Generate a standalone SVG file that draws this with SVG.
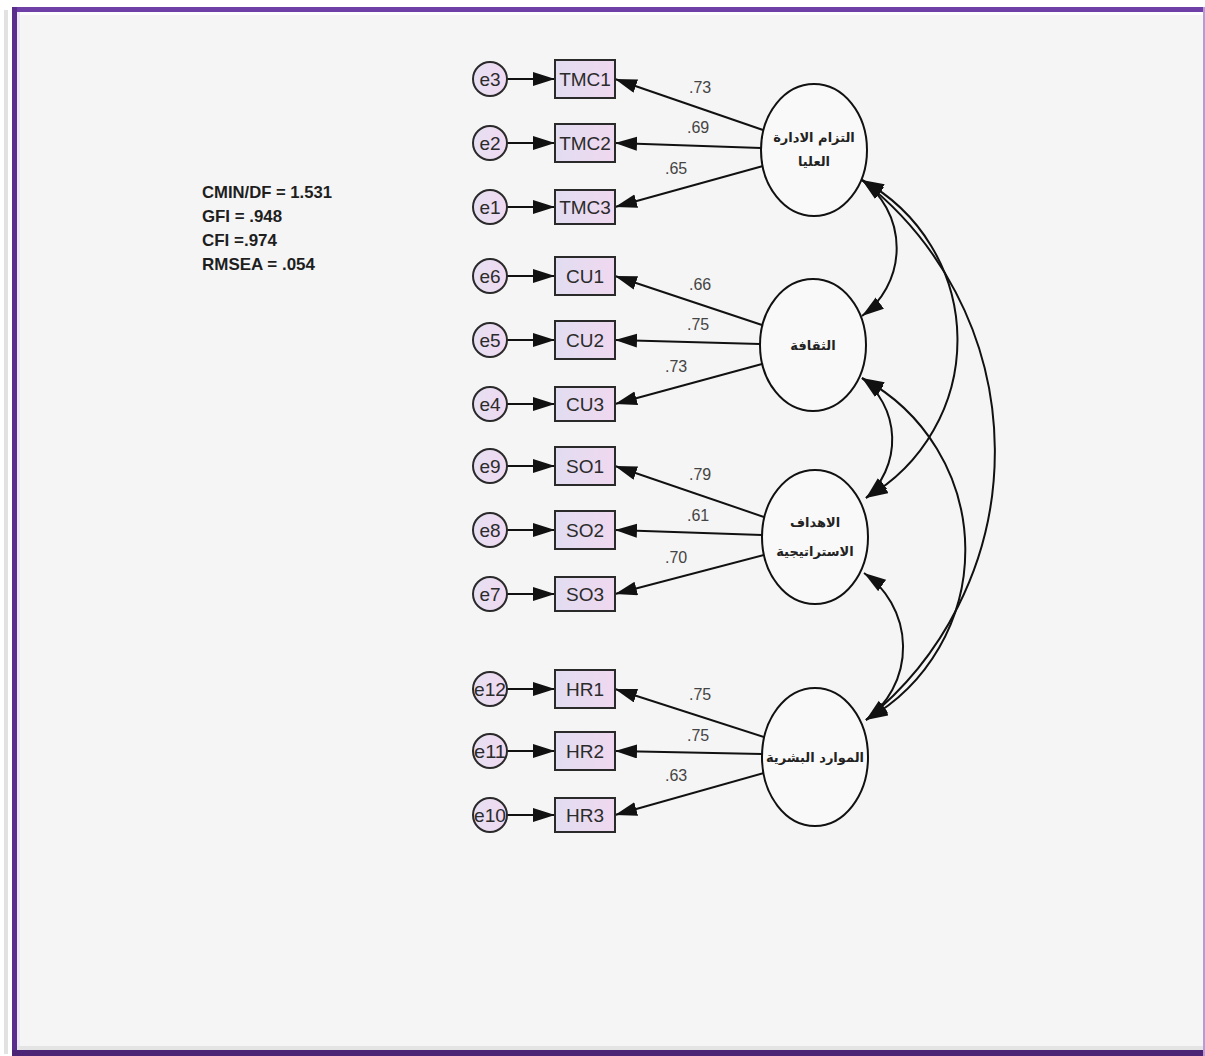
<svg xmlns="http://www.w3.org/2000/svg" width="1205" height="1056" viewBox="0 0 1205 1056">
  <defs>
    <linearGradient id="obsFill" x1="0" y1="0" x2="1" y2="0">
      <stop offset="0" stop-color="#e2ddf1"/>
      <stop offset="1" stop-color="#efd8ef"/>
    </linearGradient>
    <linearGradient id="errFill" x1="0" y1="0" x2="1" y2="0">
      <stop offset="0" stop-color="#e6e0f3"/>
      <stop offset="1" stop-color="#f0d9f0"/>
    </linearGradient>
    <marker id="arrow" markerUnits="userSpaceOnUse" markerWidth="24" markerHeight="16" refX="22" refY="7" orient="auto-start-reverse">
      <path d="M0,0 L22,7 L0,14 z" fill="#111"/>
    </marker>
    <style>
      .obs { fill: url(#obsFill); stroke: #2a2a2a; stroke-width: 2; }
      .err { fill: url(#errFill); stroke: #2a2a2a; stroke-width: 2; }
      .lat { fill: #f9f9f9; stroke: #111; stroke-width: 2; }
      .path { fill: none; stroke: #111; stroke-width: 2; }
      .lbl { font-family: "Liberation Sans", Arial, sans-serif; font-size: 19px; fill: #2b2b2b; text-anchor: middle; }
      .num { font-family: "Liberation Sans", Arial, sans-serif; font-size: 16px; fill: #444; }
      .fit { font-family: "Liberation Sans", Arial, sans-serif; font-size: 17px; font-weight: bold; fill: #1e1e1e; }
      .ar { font-family: "DejaVu Sans", "Noto Sans", sans-serif; font-size: 13px; font-weight: bold; fill: #222; text-anchor: middle; }
    </style>
  </defs>

  <!-- page and frame -->
  <rect x="0" y="0" width="1205" height="1056" fill="#ffffff"/>
  <rect x="4" y="10" width="4" height="1044" fill="#e2e2e2"/>
  <rect x="12" y="7" width="1193" height="1049" fill="#f5f5f5"/>
  <rect x="17" y="12" width="1186" height="3" fill="#fdfdfd"/>
  <rect x="17" y="12" width="3" height="1038" fill="#ece6f7"/>
  <rect x="17" y="1046" width="1186" height="4" fill="#e4e4e4"/>
  <rect x="12" y="7" width="1193" height="5" fill="#6d3fa7"/>
  <rect x="12" y="7" width="5" height="1049" fill="#5a2c8c"/>
  <rect x="12" y="1050" width="1193" height="6" fill="#4c2476"/>
  <rect x="1203" y="7" width="2" height="1049" fill="#b79ad8"/>

  <!-- model fit summary -->
  <g id="fit-indices">
    <text class="fit" x="202" y="198" textLength="130" lengthAdjust="spacingAndGlyphs">CMIN/DF = 1.531</text>
    <text class="fit" x="202" y="222" textLength="80" lengthAdjust="spacingAndGlyphs">GFI = .948</text>
    <text class="fit" x="202" y="246" textLength="75" lengthAdjust="spacingAndGlyphs">CFI =.974</text>
    <text class="fit" x="202" y="270" textLength="113" lengthAdjust="spacingAndGlyphs">RMSEA = .054</text>
  </g>

  <!-- connectors: error terms, loadings, covariances -->
  <g id="connectors">
    <!-- error -> indicator -->
    <line class="path" x1="507" y1="79" x2="555" y2="79" marker-end="url(#arrow)"/>
    <line class="path" x1="507" y1="143" x2="555" y2="143" marker-end="url(#arrow)"/>
    <line class="path" x1="507" y1="207" x2="555" y2="207" marker-end="url(#arrow)"/>
    <line class="path" x1="507" y1="276" x2="555" y2="276" marker-end="url(#arrow)"/>
    <line class="path" x1="507" y1="340" x2="555" y2="340" marker-end="url(#arrow)"/>
    <line class="path" x1="507" y1="404" x2="555" y2="404" marker-end="url(#arrow)"/>
    <line class="path" x1="507" y1="466" x2="555" y2="466" marker-end="url(#arrow)"/>
    <line class="path" x1="507" y1="530" x2="555" y2="530" marker-end="url(#arrow)"/>
    <line class="path" x1="507" y1="594" x2="555" y2="594" marker-end="url(#arrow)"/>
    <line class="path" x1="507" y1="689" x2="555" y2="689" marker-end="url(#arrow)"/>
    <line class="path" x1="507" y1="751" x2="555" y2="751" marker-end="url(#arrow)"/>
    <line class="path" x1="507" y1="815" x2="555" y2="815" marker-end="url(#arrow)"/>

    <!-- factor loadings -->
    <line class="path" x1="763" y1="130" x2="615" y2="79" marker-end="url(#arrow)"/>
    <line class="path" x1="761" y1="148" x2="615" y2="143" marker-end="url(#arrow)"/>
    <line class="path" x1="763" y1="166" x2="615" y2="207" marker-end="url(#arrow)"/>
    <line class="path" x1="762" y1="325" x2="615" y2="276" marker-end="url(#arrow)"/>
    <line class="path" x1="760" y1="344" x2="615" y2="340" marker-end="url(#arrow)"/>
    <line class="path" x1="762" y1="364" x2="615" y2="404" marker-end="url(#arrow)"/>
    <line class="path" x1="764" y1="517" x2="615" y2="466" marker-end="url(#arrow)"/>
    <line class="path" x1="762" y1="535" x2="615" y2="530" marker-end="url(#arrow)"/>
    <line class="path" x1="764" y1="555" x2="615" y2="594" marker-end="url(#arrow)"/>
    <line class="path" x1="764" y1="737" x2="615" y2="689" marker-end="url(#arrow)"/>
    <line class="path" x1="762" y1="754" x2="615" y2="751" marker-end="url(#arrow)"/>
    <line class="path" x1="764" y1="773" x2="615" y2="815" marker-end="url(#arrow)"/>

    <!-- covariances between factors -->
    <path class="path" d="M862,180 A84,84 0 0 1 862,316" marker-start="url(#arrow)" marker-end="url(#arrow)"/>
    <path class="path" d="M862,378 A78,78 0 0 1 866,498" marker-start="url(#arrow)" marker-end="url(#arrow)"/>
    <path class="path" d="M864,573 A90,90 0 0 1 866,720" marker-start="url(#arrow)" marker-end="url(#arrow)"/>
    <path class="path" d="M862,180 A182,182 0 0 1 866,498" marker-start="url(#arrow)" marker-end="url(#arrow)"/>
    <path class="path" d="M862,378 A195,195 0 0 1 866,720" marker-start="url(#arrow)" marker-end="url(#arrow)"/>
    <path class="path" d="M862,180 A344,344 0 0 1 866,720" marker-start="url(#arrow)" marker-end="url(#arrow)"/>
  </g>

  <!-- loading values -->
  <g id="loading-values">
    <text class="num" x="689" y="93">.73</text>
    <text class="num" x="687" y="133">.69</text>
    <text class="num" x="665" y="174">.65</text>
    <text class="num" x="689" y="290">.66</text>
    <text class="num" x="687" y="330">.75</text>
    <text class="num" x="665" y="372">.73</text>
    <text class="num" x="689" y="480">.79</text>
    <text class="num" x="687" y="521">.61</text>
    <text class="num" x="665" y="563">.70</text>
    <text class="num" x="689" y="700">.75</text>
    <text class="num" x="687" y="741">.75</text>
    <text class="num" x="665" y="781">.63</text>
  </g>

  <!-- error terms -->
  <g id="e3"><ellipse class="err" cx="490" cy="79" rx="17" ry="17"/><text class="lbl" x="490" y="86">e3</text></g>
  <g id="e2"><ellipse class="err" cx="490" cy="143" rx="17" ry="17"/><text class="lbl" x="490" y="150">e2</text></g>
  <g id="e1"><ellipse class="err" cx="490" cy="207" rx="17" ry="17"/><text class="lbl" x="490" y="214">e1</text></g>
  <g id="e6"><ellipse class="err" cx="490" cy="276" rx="17" ry="17"/><text class="lbl" x="490" y="283">e6</text></g>
  <g id="e5"><ellipse class="err" cx="490" cy="340" rx="17" ry="17"/><text class="lbl" x="490" y="347">e5</text></g>
  <g id="e4"><ellipse class="err" cx="490" cy="404" rx="17" ry="17"/><text class="lbl" x="490" y="411">e4</text></g>
  <g id="e9"><ellipse class="err" cx="490" cy="466" rx="17" ry="17"/><text class="lbl" x="490" y="473">e9</text></g>
  <g id="e8"><ellipse class="err" cx="490" cy="530" rx="17" ry="17"/><text class="lbl" x="490" y="537">e8</text></g>
  <g id="e7"><ellipse class="err" cx="490" cy="594" rx="17" ry="17"/><text class="lbl" x="490" y="601">e7</text></g>
  <g id="e12"><ellipse class="err" cx="490" cy="689" rx="17" ry="17"/><text class="lbl" x="490" y="696" textLength="32" lengthAdjust="spacingAndGlyphs">e12</text></g>
  <g id="e11"><ellipse class="err" cx="490" cy="751" rx="17" ry="17"/><text class="lbl" x="490" y="758" textLength="32" lengthAdjust="spacingAndGlyphs">e11</text></g>
  <g id="e10"><ellipse class="err" cx="490" cy="815" rx="17" ry="17"/><text class="lbl" x="490" y="822" textLength="32" lengthAdjust="spacingAndGlyphs">e10</text></g>

  <!-- observed indicators -->
  <g id="TMC1"><rect class="obs" x="555" y="60" width="60" height="38"/><text class="lbl" x="585" y="86">TMC1</text></g>
  <g id="TMC2"><rect class="obs" x="555" y="124" width="60" height="38"/><text class="lbl" x="585" y="150">TMC2</text></g>
  <g id="TMC3"><rect class="obs" x="555" y="190" width="60" height="34"/><text class="lbl" x="585" y="214">TMC3</text></g>
  <g id="CU1"><rect class="obs" x="555" y="257" width="60" height="38"/><text class="lbl" x="585" y="283">CU1</text></g>
  <g id="CU2"><rect class="obs" x="555" y="321" width="60" height="38"/><text class="lbl" x="585" y="347">CU2</text></g>
  <g id="CU3"><rect class="obs" x="555" y="387" width="60" height="34"/><text class="lbl" x="585" y="411">CU3</text></g>
  <g id="SO1"><rect class="obs" x="555" y="447" width="60" height="38"/><text class="lbl" x="585" y="473">SO1</text></g>
  <g id="SO2"><rect class="obs" x="555" y="511" width="60" height="38"/><text class="lbl" x="585" y="537">SO2</text></g>
  <g id="SO3"><rect class="obs" x="555" y="577" width="60" height="34"/><text class="lbl" x="585" y="601">SO3</text></g>
  <g id="HR1"><rect class="obs" x="555" y="670" width="60" height="38"/><text class="lbl" x="585" y="696">HR1</text></g>
  <g id="HR2"><rect class="obs" x="555" y="732" width="60" height="38"/><text class="lbl" x="585" y="758">HR2</text></g>
  <g id="HR3"><rect class="obs" x="555" y="798" width="60" height="34"/><text class="lbl" x="585" y="822">HR3</text></g>

  <!-- latent factors -->
  <g id="top-management">
    <ellipse class="lat" cx="814" cy="150" rx="53" ry="66"/>
    <text class="ar" x="814" y="142">التزام الادارة</text>
    <text class="ar" x="814" y="166">العليا</text>
  </g>
  <g id="culture">
    <ellipse class="lat" cx="813" cy="345" rx="53" ry="66"/>
    <text class="ar" x="813" y="350">الثقافة</text>
  </g>
  <g id="strategic-goals">
    <ellipse class="lat" cx="815" cy="537" rx="53" ry="67"/>
    <text class="ar" x="815" y="527">الاهداف</text>
    <text class="ar" x="815" y="556">الاستراتيجية</text>
  </g>
  <g id="human-resources">
    <ellipse class="lat" cx="815" cy="757" rx="53" ry="69"/>
    <text class="ar" x="815" y="762">الموارد البشرية</text>
  </g>
</svg>
